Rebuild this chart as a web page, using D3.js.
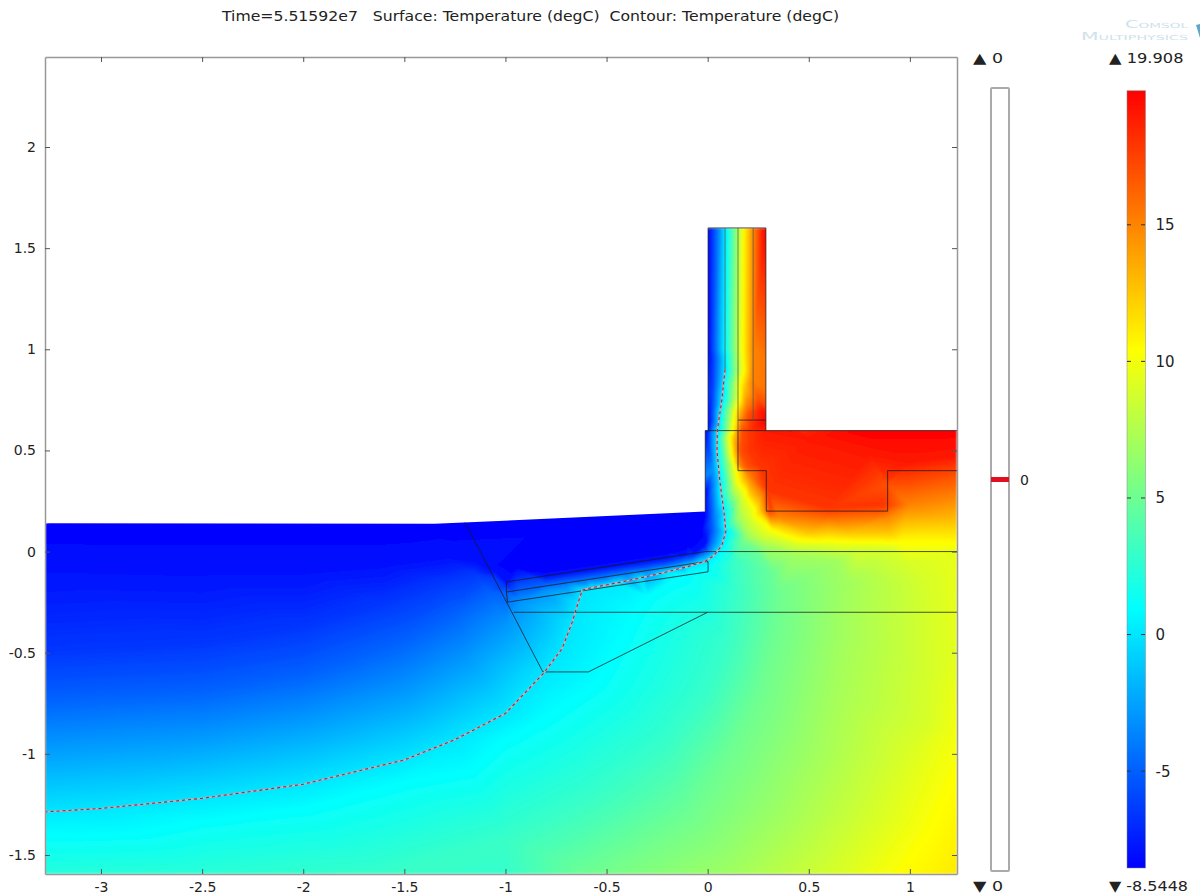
<!DOCTYPE html>
<html>
  <head>
    <meta charset="UTF-8">
    <title>Temperature surface</title>
    <script src="https://d3js.org/d3.v7.min.js"></script>
    <style>
      html, body { margin: 0; padding: 0; background: #fff; }
      svg { display: block; }
      text { font-family: "DejaVu Sans", sans-serif; fill: #222; }
    </style>
  </head>
  <body>
    <svg width="1200" height="894"></svg>
    <script>
      // Tick labels
      var xTicks = [-3, -2.5, -2, -1.5, -1, -0.5, 0, 0.5, 1];
      var yTicks = [-1.5, -1, -0.5, 0, 0.5, 1, 1.5, 2];
      var barTicks = [-5, 0, 5, 10, 15];
      var tempMin = -8.5448, tempMax = 19.908;
      var contourLevels = [0];

      // Temperature: one [x, y] list per level
      var isoLevels = [-8.54, -8, -6.5, -5, -3, 0, 0.94, 3, 5, 7, 9, 10.4, 12.5, 15, 17, 18, 19, 19.9];
      var isoM85 = [[-3.277,0.14],[-2.4,0.14],[-1.35,0.14],[-0.7,0.17],[-0.3,0.185],[-0.012,0.198],[-0.95,-0.08],[-0.8,-0.09],[-0.7,-0.075],[-0.6,-0.06],[-0.5,-0.045],[-0.4,-0.03],[-0.3,-0.015],[-0.2,0],[-0.1,0.03],[-0.03,0.1],[-0.6,0.05],[-0.3,0.05]];
      var isoM8 = [[-3.277,-0.08],[-2.5,-0.1],[-2,-0.1],[-1.6,-0.07],[-1.3,-0.03],[-1.15,-0.05],[-1.05,-0.1],[-0.995,-0.15],[-0.8,-0.123],[-0.7,-0.108],[-0.6,-0.093],[-0.5,-0.078],[-0.4,-0.063],[-0.3,-0.047],[-0.2,-0.03],[-0.12,-0.015],[-0.06,-0.005],[-0.02,0.025],[-0.006,0.05],[-0.006,0.3],[-0.006,0.59],[0.006,0.62],[0.007,1],[0.007,1.6]];
      var isoM65 = [[-3.277,-0.5],[-2.5,-0.46],[-2,-0.38],[-1.6,-0.26],[-1.3,-0.15],[-1.15,-0.11],[-1.05,-0.13],[-1,-0.17],[-0.8,-0.14],[-0.7,-0.125],[-0.6,-0.11],[-0.5,-0.095],[-0.4,-0.08],[-0.3,-0.065],[-0.2,-0.05],[-0.14,-0.035],[-0.08,-0.02],[-0.01,0.015],[0.008,0.1],[0.006,0.3],[0.006,0.58],[0.02,0.65],[0.022,0.8],[0.025,0.95],[0.025,1.6]];
      var isoM5 = [[-3.277,-0.72],[-2.5,-0.68],[-2,-0.6],[-1.5,-0.43],[-1.25,-0.3],[-1.08,-0.2],[-0.995,-0.2],[-0.8,-0.16],[-0.7,-0.144],[-0.6,-0.128],[-0.5,-0.112],[-0.4,-0.097],[-0.3,-0.082],[-0.2,-0.065],[-0.14,-0.05],[-0.08,-0.035],[-0.02,-0.005],[0.015,0.05],[0.022,0.15],[0.015,0.3],[0.012,0.58],[0.03,0.7],[0.037,0.85],[0.04,0.95],[0.04,1.6]];
      var isoM3 = [[-3.277,-0.95],[-2.5,-0.9],[-2,-0.82],[-1.5,-0.68],[-1.2,-0.52],[-1,-0.36],[-0.93,-0.25],[-0.8,-0.195],[-0.7,-0.178],[-0.6,-0.16],[-0.5,-0.142],[-0.4,-0.125],[-0.3,-0.103],[-0.2,-0.08],[-0.14,-0.065],[-0.08,-0.05],[-0.03,-0.025],[0.025,0.02],[0.05,0.1],[0.04,0.2],[0.027,0.4],[0.025,0.55],[0.04,0.7],[0.055,0.85],[0.06,0.95],[0.06,1.6]];
      var isoZero = [[0.086,1.6],[0.086,0.9],[0.07,0.75],[0.048,0.6],[0.046,0.5],[0.06,0.35],[0.08,0.2],[0.09,0.1],[0.07,0.03],[0.03,-0.02],[-0.015,-0.05],[-0.04,-0.056],[-0.1,-0.075],[-0.2,-0.1],[-0.33,-0.13],[-0.45,-0.155],[-0.58,-0.18],[-0.62,-0.19],[-0.64,-0.25],[-0.67,-0.35],[-0.72,-0.48],[-0.81,-0.6],[-1,-0.8],[-1.25,-0.93],[-1.5,-1.03],[-2,-1.15],[-2.5,-1.22],[-3,-1.27],[-3.277,-1.287]];
      var isoCyan = [[0.095,1.6],[0.095,0.9],[0.08,0.75],[0.058,0.6],[0.055,0.5],[0.07,0.35],[0.09,0.2],[0.105,0.1],[0.085,0.03],[0.045,-0.03],[0,-0.085],[-0.1,-0.115],[-0.2,-0.16],[-0.3,-0.22],[-0.36,-0.3],[-0.42,-0.42],[-0.55,-0.65],[-0.8,-0.82],[-1,-0.93],[-1.5,-1.14],[-2,-1.27],[-2.5,-1.33],[-3.277,-1.4]];
      var iso3 = [[0.115,1.6],[0.115,0.9],[0.1,0.75],[0.075,0.6],[0.072,0.45],[0.085,0.3],[0.11,0.13],[0.125,0.05],[0.13,-0.05],[0.14,-0.2],[0.1,-0.45],[0,-0.7],[-0.2,-0.95],[-0.55,-1.2],[-1,-1.42],[-1.6,-1.594]];
      var iso5 = [[0.13,1.6],[0.128,0.9],[0.112,0.75],[0.09,0.6],[0.09,0.45],[0.105,0.3],[0.13,0.15],[0.17,0.05],[0.25,0],[0.33,-0.1],[0.35,-0.2],[0.33,-0.4],[0.25,-0.7],[0.1,-1],[-0.1,-1.3],[-0.6,-1.594]];
      var iso7 = [[0.15,1.6],[0.15,0.9],[0.13,0.76],[0.105,0.6],[0.1,0.45],[0.125,0.3],[0.155,0.17],[0.2,0.08],[0.28,0.03],[0.42,-0.01],[0.65,-0.04],[0.7,-0.15],[0.68,-0.4],[0.62,-0.7],[0.55,-1],[0.4,-1.3],[0.15,-1.594]];
      var iso9 = [[0.165,1.6],[0.165,0.9],[0.15,0.77],[0.118,0.6],[0.118,0.45],[0.17,0.27],[0.215,0.16],[0.28,0.08],[0.45,0.03],[0.6,0.025],[0.75,0.02],[0.9,0.015],[1,-0.05],[1.1,-0.15],[1.12,-0.3],[1.13,-0.6],[1.1,-0.85],[0.98,-1],[0.85,-1.3],[0.65,-1.594]];
      var iso104 = [[0.175,1.6],[0.172,1],[0.16,0.82],[0.135,0.68],[0.112,0.6],[0.11,0.57],[0.135,0.42],[0.19,0.29],[0.235,0.205],[0.32,0.105],[0.49,0.057],[0.7,0.05],[0.95,0.045],[1.233,0.04]];
      var iso104Low = [[0.95,-1.594],[1.1,-1.38],[1.233,-1.1]];
      var iso125 = [[0.2,1.6],[0.2,0.9],[0.18,0.8],[0.15,0.68],[0.13,0.57],[0.15,0.42],[0.21,0.29],[0.26,0.2],[0.35,0.13],[0.5,0.09],[0.7,0.09],[0.9,0.09],[1.233,0.14]];
      var iso15 = [[0.225,1.6],[0.225,1],[0.22,0.85],[0.19,0.72],[0.165,0.65],[0.155,0.6],[0.16,0.42],[0.2,0.38],[0.27,0.28],[0.29,0.2],[0.35,0.17],[0.6,0.15],[0.89,0.17],[1,0.23],[1.233,0.27]];
      var iso17 = [[0.25,1.6],[0.25,0.75],[0.2,0.68],[0.17,0.6],[0.16,0.5],[0.2,0.42],[0.29,0.28],[0.3,0.195],[0.6,0.19],[0.87,0.205],[0.89,0.33],[1.233,0.38]];
      var iso18 = [[0.21,0.6],[0.21,0.5],[0.26,0.42],[0.3,0.3],[0.31,0.225],[0.6,0.215],[0.87,0.23],[0.89,0.36],[1.233,0.43]];
      var iso19 = [[0.27,1.6],[0.27,0.7],[0.3,0.6],[0.5,0.56],[0.8,0.48],[1,0.44],[1.233,0.47]];
      var iso199 = [[0.29,1.6],[0.29,0.65],[0.75,0.6],[1.233,0.6]];
      var isoLists = [isoM85, isoM8, isoM65, isoM5, isoM3, isoZero, isoCyan, iso3, iso5, iso7, iso9, iso104, iso125, iso15, iso17, iso18, iso19, iso199];

      // Edge readings that do not sit on a level line
      var edgeX = [-3.277, -2.5, -1, 1.233, 1.233, 1.233, 1.233];
      var edgeY = [-1.594, -1.594, -1.594, -1.594, -0.9, -0.5, 0];
      var edgeT = [2.3, 2.5, 2.9, 11.2, 10, 9.4, 9.6];

      // Domain outline and the drawn boundaries inside it
      var domainOutline = [[-3.277,0.14],[-1.35,0.137],[-0.012,0.198],[-0.012,0.598],[0.002,0.598],[0.002,1.6],[0.288,1.6],[0.288,0.598],[1.233,0.598],[1.233,-1.594],[-3.277,-1.594]];
      var boundaries = [
        [[-0.012,0.198],[-0.012,0.598],[1.233,0.598]],
        [[0.002,0.598],[0.002,1.6],[0.288,1.6],[0.288,0.598]],
        [[0.15,0.598],[0.15,0.4],[0.29,0.4],[0.29,0.2],[0.89,0.2],[0.89,0.4],[1.233,0.4]],
        [[0.15,0.65],[0.285,0.65]],
        [[-1.2,0.145],[-0.815,-0.595],[-0.59,-0.595],[0,-0.3]],
        [[-0.96,-0.3],[1.233,-0.3]],
        [[-0.012,0],[1.233,0]],
        [[-0.995,-0.15],[-0.012,0]],
        [[-0.995,-0.2],[-0.012,-0.05]],
        [[-0.99,-0.25],[0.002,-0.1],[0.002,-0.05],[-0.012,-0.05]],
        [[-0.995,-0.15],[-0.995,-0.2],[-0.99,-0.25]]
      ];
      // Fainter layer lines in the upright wall
      var wallLines = [
        [[0.086,1.6],[0.086,0.9]],
        [[0.15,1.6],[0.15,0.598]],
        [[0.225,1.6],[0.225,0.65]]
      ];

      var svg = d3.select("svg");
      var margin = {top: 57, right: 957, bottom: 874, left: 45};

      var x = d3.scaleLinear().domain([-3.277, 1.233]).range([margin.left, margin.right]);
      var y = d3.scaleLinear().domain([-1.594, 2.445]).range([margin.bottom, margin.top]);
      var barY = d3.scaleLinear().domain([tempMin, tempMax]).range([868, 90.7]);

      // Blue, cyan, yellow, red in equal thirds, same as the colour bar
      var third = (tempMax - tempMin) / 3;
      var color = d3.scaleLinear()
          .domain([tempMin, tempMin + third, tempMin + 2 * third, tempMax])
          .range(["#0000ff", "#00ffff", "#ffff00", "#ff0000"])
          .clamp(true);

      // Collect samples in pixel space
      var pts = [], temps = [];
      isoLists.forEach(function(list, i) {
        list.forEach(function(p) {
          pts.push([x(p[0]), y(p[1])]);
          temps.push(isoLevels[i]);
        });
      });
      iso104Low.forEach(function(p) {
        pts.push([x(p[0]), y(p[1])]);
        temps.push(10.4);
      });
      edgeX.forEach(function(v, i) {
        pts.push([x(v), y(edgeY[i])]);
        temps.push(edgeT[i]);
      });

      // Fill the triangles of the samples into an image
      var w = margin.right - margin.left, h = margin.bottom - margin.top;
      var canvas = document.createElement("canvas");
      canvas.width = w;
      canvas.height = h;
      var ctx = canvas.getContext("2d");
      var img = ctx.createImageData(w, h);
      var lut = d3.range(512).map(function(i) {
        return d3.rgb(color(tempMin + (tempMax - tempMin) * i / 511));
      });
      var tri = d3.Delaunay.from(pts).triangles;
      for (var t = 0; t < tri.length; t += 3) {
        var a = tri[t], b = tri[t + 1], c = tri[t + 2];
        var ax = pts[a][0] - margin.left, ay = pts[a][1] - margin.top;
        var bx = pts[b][0] - margin.left, by = pts[b][1] - margin.top;
        var cx = pts[c][0] - margin.left, cy = pts[c][1] - margin.top;
        var den = (by - cy) * (ax - cx) + (cx - bx) * (ay - cy);
        if (Math.abs(den) < 1e-6) continue;
        var x0 = Math.max(0, Math.floor(Math.min(ax, bx, cx)) - 1), x1 = Math.min(w - 1, Math.ceil(Math.max(ax, bx, cx)) + 1);
        var y0 = Math.max(0, Math.floor(Math.min(ay, by, cy)) - 1), y1 = Math.min(h - 1, Math.ceil(Math.max(ay, by, cy)) + 1);
        for (var py = y0; py <= y1; py++) {
          for (var px = x0; px <= x1; px++) {
            var l1 = ((by - cy) * (px + 0.5 - cx) + (cx - bx) * (py + 0.5 - cy)) / den;
            var l2 = ((cy - ay) * (px + 0.5 - cx) + (ax - cx) * (py + 0.5 - cy)) / den;
            var l3 = 1 - l1 - l2;
            if (l1 < -0.001 || l2 < -0.001 || l3 < -0.001) continue;
            var val = l1 * temps[a] + l2 * temps[b] + l3 * temps[c];
            var col = lut[Math.max(0, Math.min(511, Math.round((val - tempMin) / (tempMax - tempMin) * 511)))];
            var k = (py * w + px) * 4;
            img.data[k] = col.r;
            img.data[k + 1] = col.g;
            img.data[k + 2] = col.b;
            img.data[k + 3] = 255;
          }
        }
      }
      ctx.putImageData(img, 0, 0);

      var defs = svg.append("defs");
      var line = d3.line().x(function(d) { return x(d[0]); }).y(function(d) { return y(d[1]); });

      defs.append("clipPath").attr("id", "domain-clip")
        .append("path").attr("d", line(domainOutline) + "Z");
      var blur = defs.append("filter").attr("id", "soft")
          .attr("x", 0).attr("y", 0).attr("width", 1).attr("height", 1);
      blur.append("feGaussianBlur").attr("stdDeviation", 1.2).attr("edgeMode", "duplicate");

      // Surface
      svg.append("g").attr("clip-path", "url(#domain-clip)")
        .append("image")
          .attr("x", margin.left).attr("y", margin.top)
          .attr("width", w).attr("height", h)
          .attr("href", canvas.toDataURL())
          .attr("filter", "url(#soft)");

      // Boundaries
      svg.append("g").selectAll("path").data(boundaries).join("path")
          .attr("d", line)
          .attr("fill", "none")
          .attr("stroke", "#1a1a1a")
          .attr("stroke-opacity", 0.75)
          .attr("stroke-width", 1);
      svg.append("g").selectAll("path").data(wallLines).join("path")
          .attr("d", line)
          .attr("fill", "none")
          .attr("stroke", "#555")
          .attr("stroke-opacity", 0.6)
          .attr("stroke-width", 1.2);

      // Contour at the only level, it runs under the wall line above y = 0.9
      var contourShown = isoZero.slice(1);
      svg.append("path").attr("d", line(contourShown))
          .attr("fill", "none").attr("stroke", "#c8b0b8").attr("stroke-width", 1.5);
      svg.append("path").attr("d", line(contourShown))
          .attr("fill", "none").attr("stroke", "#b02040").attr("stroke-width", 1.1)
          .attr("stroke-dasharray", "3,3");

      // Axes, ticks point inward on all four sides
      function styleAxis(g) {
        g.selectAll(".domain").attr("stroke", "#999").attr("stroke-width", 1.5);
        g.selectAll(".tick line").attr("stroke", "#555");
        g.selectAll("text").attr("font-size", 14).attr("fill", "#222");
      }
      svg.append("g").attr("transform", "translate(0," + margin.bottom + ")")
          .call(d3.axisBottom(x).tickValues(xTicks).tickFormat(String).tickSizeInner(-5).tickSizeOuter(0).tickPadding(8))
          .call(styleAxis);
      svg.append("g").attr("transform", "translate(0," + margin.top + ")")
          .call(d3.axisTop(x).tickValues(xTicks).tickFormat("").tickSizeInner(-5).tickSizeOuter(0))
          .call(styleAxis);
      svg.append("g").attr("transform", "translate(" + margin.left + ",0)")
          .call(d3.axisLeft(y).tickValues(yTicks).tickFormat(String).tickSizeInner(-5).tickSizeOuter(0).tickPadding(9))
          .call(styleAxis);
      svg.append("g").attr("transform", "translate(" + margin.right + ",0)")
          .call(d3.axisRight(y).tickValues(yTicks).tickFormat("").tickSizeInner(-5).tickSizeOuter(0))
          .call(styleAxis);

      // Title
      svg.append("text").attr("x", 222).attr("y", 21)
          .attr("font-size", 14)
          .attr("textLength", 617).attr("lengthAdjust", "spacingAndGlyphs")
          .style("white-space", "pre")
          .text("Time=5.51592e7   Surface: Temperature (degC)  Contour: Temperature (degC)");

      // Contour level bar
      svg.append("rect").attr("x", 991).attr("y", 88).attr("width", 18).attr("height", 783)
          .attr("rx", 1).attr("fill", "#fff").attr("stroke", "#aaa").attr("stroke-width", 2);
      svg.selectAll(".level").data(contourLevels).join("rect").attr("class", "level")
          .attr("x", 991).attr("y", 477).attr("width", 18).attr("height", 5).attr("fill", "#e01020");
      svg.selectAll(".level-label").data(contourLevels).join("text").attr("class", "level-label")
          .attr("x", 1020).attr("y", 485).attr("font-size", 14).text(String);
      svg.append("text").attr("x", 973).attr("y", 63).attr("font-size", 14.5)
          .attr("textLength", 30).attr("lengthAdjust", "spacingAndGlyphs").text("\u25B2 0");
      svg.append("text").attr("x", 973).attr("y", 891).attr("font-size", 14.5)
          .attr("textLength", 30).attr("lengthAdjust", "spacingAndGlyphs").text("\u25BC 0");

      // Colour bar
      var gradient = defs.append("linearGradient").attr("id", "temp-bar")
          .attr("x1", 0).attr("x2", 0).attr("y1", 1).attr("y2", 0);
      color.domain().forEach(function(d) {
        gradient.append("stop")
            .attr("offset", (d - tempMin) / (tempMax - tempMin))
            .attr("stop-color", color(d));
      });
      svg.append("rect").attr("x", 1127).attr("y", barY(tempMax))
          .attr("width", 18.5).attr("height", barY(tempMin) - barY(tempMax))
          .attr("fill", "url(#temp-bar)").attr("stroke", "#888").attr("stroke-opacity", 0.5);
      var barTick = svg.selectAll(".bar-tick").data(barTicks).join("g").attr("class", "bar-tick")
          .attr("transform", function(d) { return "translate(0," + barY(d) + ")"; });
      barTick.append("line").attr("x1", 1127).attr("x2", 1131).attr("stroke", "#333");
      barTick.append("line").attr("x1", 1141).attr("x2", 1145).attr("stroke", "#333");
      barTick.append("text").attr("x", 1155.5)
          .attr("dy", "0.36em").attr("font-size", 15).text(String);
      svg.append("text").attr("x", 1109).attr("y", 63).attr("font-size", 14.5)
          .attr("textLength", 74.5).attr("lengthAdjust", "spacingAndGlyphs").text("\u25B2 19.908");
      svg.append("text").attr("x", 1109).attr("y", 891).attr("font-size", 14.5)
          .attr("textLength", 79).attr("lengthAdjust", "spacingAndGlyphs").text("\u25BC -8.5448");

      // Vendor mark
      svg.append("text").attr("x", 1125).attr("y", 28)
          .attr("font-size", 10).style("fill", "#cfe2ec").style("font-variant", "small-caps")
          .attr("textLength", 63).attr("lengthAdjust", "spacingAndGlyphs").text("Comsol");
      svg.append("text").attr("x", 1081).attr("y", 40)
          .attr("font-size", 10).style("fill", "#cfe2ec").style("font-variant", "small-caps")
          .attr("textLength", 107).attr("lengthAdjust", "spacingAndGlyphs").text("Multiphysics");
      svg.append("path").attr("d", "M1196,25L1200,24L1200,38Z").attr("fill", "#5fa8c8");
    </script>
  </body>
</html>
